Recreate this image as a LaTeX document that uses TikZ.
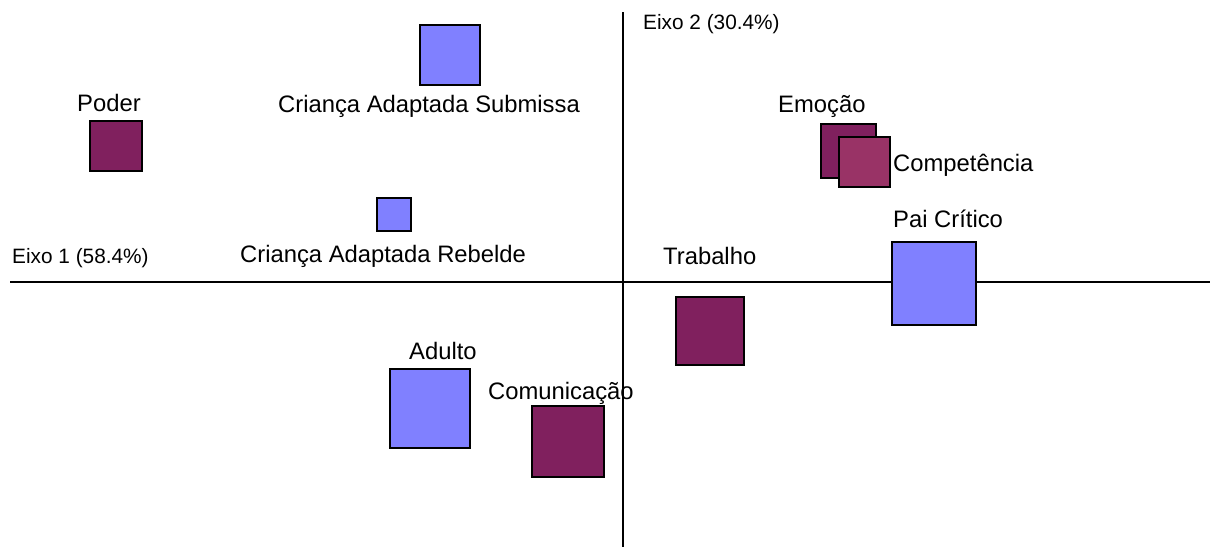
\documentclass[tikz,border=0pt]{standalone}
\usepackage{fontspec}
\setmainfont{Liberation Sans}
\definecolor{blu}{RGB}{128,128,255}
\definecolor{plum}{RGB}{128,32,94}
\definecolor{plumlight}{RGB}{153,51,102}
\begin{document}
\begin{tikzpicture}[x=1pt,y=-1pt,
  sq/.style={draw=black,line width=2pt},
  lbl/.style={anchor=base west,inner sep=0pt,font=\fontsize{23.8}{26}\selectfont},
  axlbl/.style={anchor=base west,inner sep=0pt,font=\fontsize{20.8}{23}\selectfont},
  axis/.style={line width=2pt,black}]
\useasboundingbox (0,0) rectangle (1224,547);
% axes
\coordinate (xl) at (10,282);
\coordinate (xr) at (1210,282);
\coordinate (yt) at (623,12);
\coordinate (yb) at (623,547);
\draw[axis] (xl) -- (xr);
\draw[axis] (yt) -- (yb);
\node[axlbl] (e1) at (12,263) {Eixo 1 (58.4\%)};
\node[axlbl] (e2) at (643,29) {Eixo 2 (30.4\%)};
% squares
\filldraw[sq,fill=blu] (420,25) rectangle (480,85);
\filldraw[sq,fill=plum] (90,121) rectangle (142,171);
\filldraw[sq,fill=blu] (377,198) rectangle (411,231);
\filldraw[sq,fill=plum] (821,124) rectangle (876,178);
\filldraw[sq,fill=plumlight] (839,137) rectangle (890,187);
\filldraw[sq,fill=blu] (892,242) rectangle (976,325);
\filldraw[sq,fill=plum] (676,297) rectangle (744,365);
\filldraw[sq,fill=blu] (390,369) rectangle (470,448);
\filldraw[sq,fill=plum] (532,406) rectangle (604,477);
% labels
\node[lbl] (poder) at (77,111) {Poder};
\node[lbl] (cas) at (278,112) {Criança Adaptada Submissa};
\node[lbl] (car) at (240,262) {Criança Adaptada Rebelde};
\node[lbl] (emo) at (778,112) {Emoção};
\node[lbl] (comp) at (893,171) {Competência};
\node[lbl] (pai) at (893,227) {Pai Crítico};
\node[lbl] (trab) at (663,264) {Trabalho};
\node[lbl] (adu) at (409,359) {Adulto};
\node[lbl] (comu) at (488,399) {Comunicação};
\end{tikzpicture}
\end{document}
